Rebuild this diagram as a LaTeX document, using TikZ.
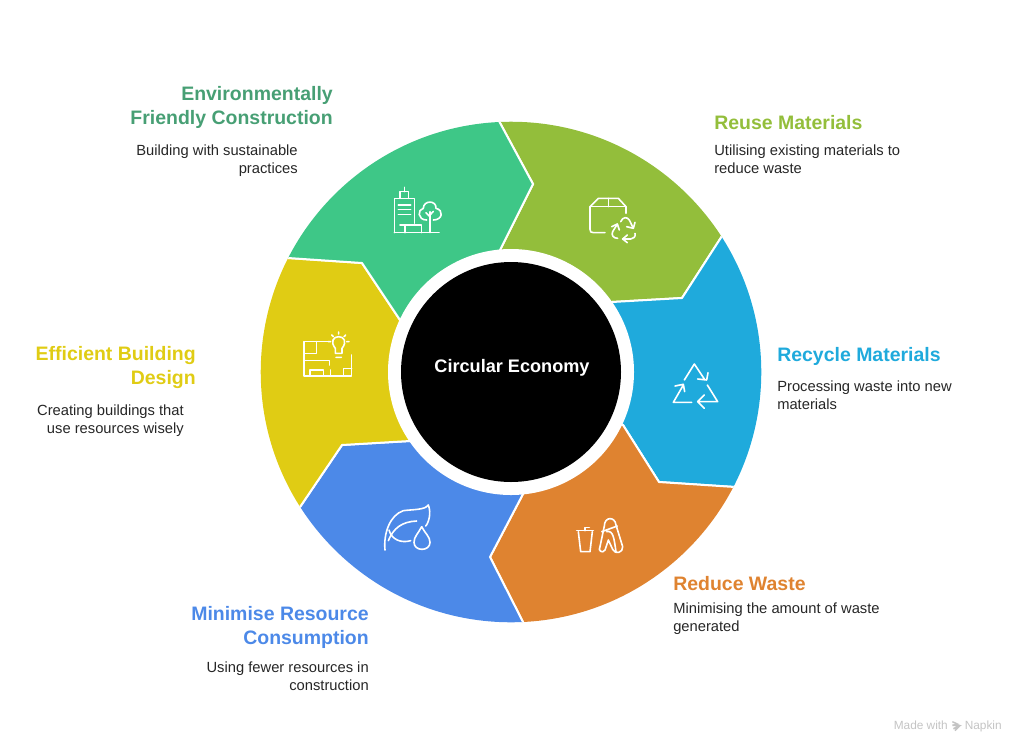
\documentclass[tikz,border=0pt]{standalone}
\usepackage{fontspec}
\setmainfont{Liberation Sans}
\usetikzlibrary{calc}
\definecolor{cgreen}{HTML}{3EC787}
\definecolor{tgreen}{HTML}{479F74}
\definecolor{clime}{HTML}{93BE3B}
\definecolor{cblue}{HTML}{1FAADC}
\definecolor{corange}{HTML}{DF8330}
\definecolor{cperi}{HTML}{4C89E8}
\definecolor{cyellow}{HTML}{E0CC14}
\definecolor{cfoot}{HTML}{C4C4C4}
\tikzset{
  sector/.style={fill=#1,draw=white,line width=1.5pt,line join=miter},
  title/.style={font=\fontsize{14.6}{18}\selectfont\bfseries,text=#1,inner sep=0pt},
  desc/.style={font=\fontsize{11.05}{13.5}\selectfont,text=black!85,inner sep=0pt},
  icon/.style={draw=white,line width=1.2pt,line cap=round,line join=round},
  zoomed/.style={x=0.25pt,y=-0.25pt}
}
\begin{document}
\begin{tikzpicture}[x=0.75pt,y=-0.75pt]
\useasboundingbox (0,0) rectangle (1024,754);
\coordinate (c) at (511,372);
\coordinate (o1) at (499,121); \coordinate (t1) at (533,184); \coordinate (i1) at (500,250);
\coordinate (o2) at (722,236); \coordinate (t2) at (682,298); \coordinate (i2) at (612,302);
\coordinate (o3) at (735,487); \coordinate (t3) at (659,482); \coordinate (i3) at (623,425);
\coordinate (o4) at (523,622); \coordinate (t4) at (490,557); \coordinate (i4) at (523,494);
\coordinate (o5) at (300,507); \coordinate (t5) at (342,445); \coordinate (i5) at (410,441);
\coordinate (o6) at (288,258); \coordinate (t6) at (362,263); \coordinate (i6) at (400,320);
\begin{scope}
\clip (c) circle[radius=187.7pt];
\foreach \a/\b/\col in {1/2/clime,2/3/cblue,3/4/corange,4/5/cperi,5/6/cyellow,6/1/cgreen}{
  \draw[sector=\col] (c) -- (i\a) -- (t\a) -- ($(t\a)!1.3!(o\a)$)
     -- ($(c)!2.5!($(o\a)!.5!(o\b)$)$)
     -- ($(t\b)!1.3!(o\b)$) -- (t\b) -- (i\b) -- cycle;
}
\end{scope}
\fill[white] (c) circle[radius=92.25pt];
\node[circle,fill=black,minimum size=165pt,inner sep=0pt] (hub) at (c) {};
\node[font=\fontsize{13.6}{16}\selectfont\bfseries,text=white,inner sep=0pt] (hubtext) at (512,367.5) {Circular Economy};

% Titles and descriptions
\node[title=tgreen,align=right,anchor=north east] (t-env) at (333,86) {Environmentally\\Friendly Construction};
\node[desc,align=right,anchor=north east] (d-env) at (298,144.5) {Building with sustainable\\practices};
\node[title=clime,align=left,anchor=north west] (t-reuse) at (714,115) {Reuse Materials};
\node[desc,align=left,anchor=north west] (d-reuse) at (714,144.5) {Utilising existing materials to\\reduce waste};
\node[title=cblue,align=left,anchor=north west] (t-rec) at (777,347) {Recycle Materials};
\node[desc,align=left,anchor=north west] (d-rec) at (777,380.5) {Processing waste into new\\materials};
\node[title=corange,align=left,anchor=north west] (t-red) at (673,576.5) {Reduce Waste};
\node[desc,align=left,anchor=north west] (d-red) at (673,603) {Minimising the amount of waste\\generated};
\node[title=cperi,align=right,anchor=north east] (t-min) at (369,606.5) {Minimise Resource\\Consumption};
\node[desc,align=right,anchor=north east] (d-min) at (369,662) {Using fewer resources in\\construction};
\node[title=cyellow,align=right,anchor=north east] (t-eff) at (196,346.5) {Efficient Building\\Design};
\node[desc,align=right,anchor=north east] (d-eff) at (184,405) {Creating buildings that\\use resources wisely};

% Building icon
\begin{scope}[shift={(380,170)},zoomed]
\draw[icon] (43,188) -- (43,85) -- (103,85) -- (103,160);
\draw[icon] (60,85) -- (60,65) -- (85,65) -- (85,85) (73,65) -- (73,52);
\draw[icon] (55,105) -- (92,105) (55,119) -- (92,119) (55,133) -- (92,133);
\draw[icon] (43,188) -- (177,188) (75,188) -- (75,165) -- (125,165) -- (125,188) (75,165) -- (60,165);
\draw[icon] (150,188) -- (150,125) (150,140) -- (138,128) (150,135) -- (160,124);
\draw[icon] (140,150) .. controls (112,150) and (112,118) .. (130,115) .. controls (130,90) and (170,90) .. (168,115) .. controls (192,120) and (188,150) .. (160,150);
\end{scope}
% Box with recycling arrows
\begin{scope}[shift={(380,170)},zoomed]
\draw[icon] (675,188) -- (640,188) .. controls (633,188) and (630,185) .. (630,178) -- (630,110) -- (655,85) -- (715,85) -- (738,110) -- (738,130);
\draw[icon] (630,110) -- (738,110) (685,85) -- (685,110);
\draw[icon] (713,205) .. controls (700,205) and (693,195) .. (698,185) -- (712,162);
\draw[icon] (695,170) -- (712,162) -- (718,180);
\draw[icon] (722,155) .. controls (728,140) and (742,140) .. (748,150) -- (760,175);
\draw[icon] (740,170) -- (760,175) -- (765,157);
\draw[icon] (765,190) .. controls (768,200) and (760,207) .. (752,207) -- (728,207);
\draw[icon] (742,195) -- (728,207) -- (742,218);
\end{scope}
% Recycle triangle
\begin{scope}[shift={(650,350)},zoomed]
\draw[icon] (103,90) -- (133,42) -- (165,90) (143,87) -- (170,90) -- (174,68);
\draw[icon] (172,105) -- (203,155) -- (143,155) (163,135) -- (143,155) -- (163,175);
\draw[icon] (125,157) -- (70,157) -- (100,105) (75,108) -- (100,103) -- (104,125);
\end{scope}
% Orange and blue icons
\begin{scope}[shift={(360,490)},zoomed]
\draw[icon] (650,122) -- (700,122) (675,122) -- (675,112) -- (688,112);
\draw[icon] (655,125) -- (662,185) -- (690,185) -- (697,125);
\draw[icon] (733,108) .. controls (733,80) and (765,78) .. (768,105) -- (788,170) .. controls (790,188) and (765,195) .. (758,178) -- (745,150) -- (735,180) .. controls (728,192) and (712,182) .. (720,170) -- (733,108);
\draw[icon] (725,125) -- (772,108) (740,125) .. controls (760,120) and (762,145) .. (768,185);
\draw[icon] (75,180) .. controls (70,130) and (90,75) .. (130,62) .. controls (160,58) and (195,60) .. (205,45) .. controls (215,70) and (205,100) .. (197,108);
\draw[icon] (85,152) .. controls (100,115) and (125,95) .. (170,93);
\draw[icon] (87,120) .. controls (95,150) and (125,160) .. (152,152);
\draw[icon] (185,110) .. controls (175,130) and (162,140) .. (162,157) .. controls (162,185) and (210,185) .. (210,157) .. controls (210,140) and (195,130) .. (185,110);
\end{scope}
% Plan with light bulb
\begin{scope}[shift={(290,320)},zoomed]
\draw[icon] (118,65) -- (42,65) -- (42,168) -- (185,168) -- (185,105);
\draw[icon] (80,65) -- (80,100) -- (42,100) (42,122) -- (118,122) -- (118,135);
\draw[icon] (60,168) -- (60,150) -- (100,150) -- (100,168) (122,168) -- (122,150) (160,168) -- (160,145) -- (185,145);
\draw[icon] (136,85) .. controls (120,65) and (130,50) .. (146,50) .. controls (162,50) and (172,65) .. (156,85) -- (156,100) -- (136,100) -- cycle;
\draw[icon] (138,112) -- (154,112) (146,36) -- (146,42) (115,65) -- (122,65) (170,65) -- (177,65) (125,45) -- (130,50) (167,45) -- (162,50);
\end{scope}
% Footer
\node[font=\fontsize{8.9}{10}\selectfont,text=cfoot,inner sep=0pt,anchor=base west] (f1) at (893.5,729.5) {Made with};
\node[font=\fontsize{8.9}{10}\selectfont,text=cfoot,inner sep=0pt,anchor=base west] (f2) at (964.5,729.5) {Napkin};
\begin{scope}[shift={(880,710)},zoomed]
\draw[cfoot,line width=1.1pt] (217,35) -- (232,42) -- (217,46) (217,46) -- (238,47) -- (220,56) (220,56) -- (235,52) -- (225,62);
\end{scope}
\end{tikzpicture}
\end{document}
